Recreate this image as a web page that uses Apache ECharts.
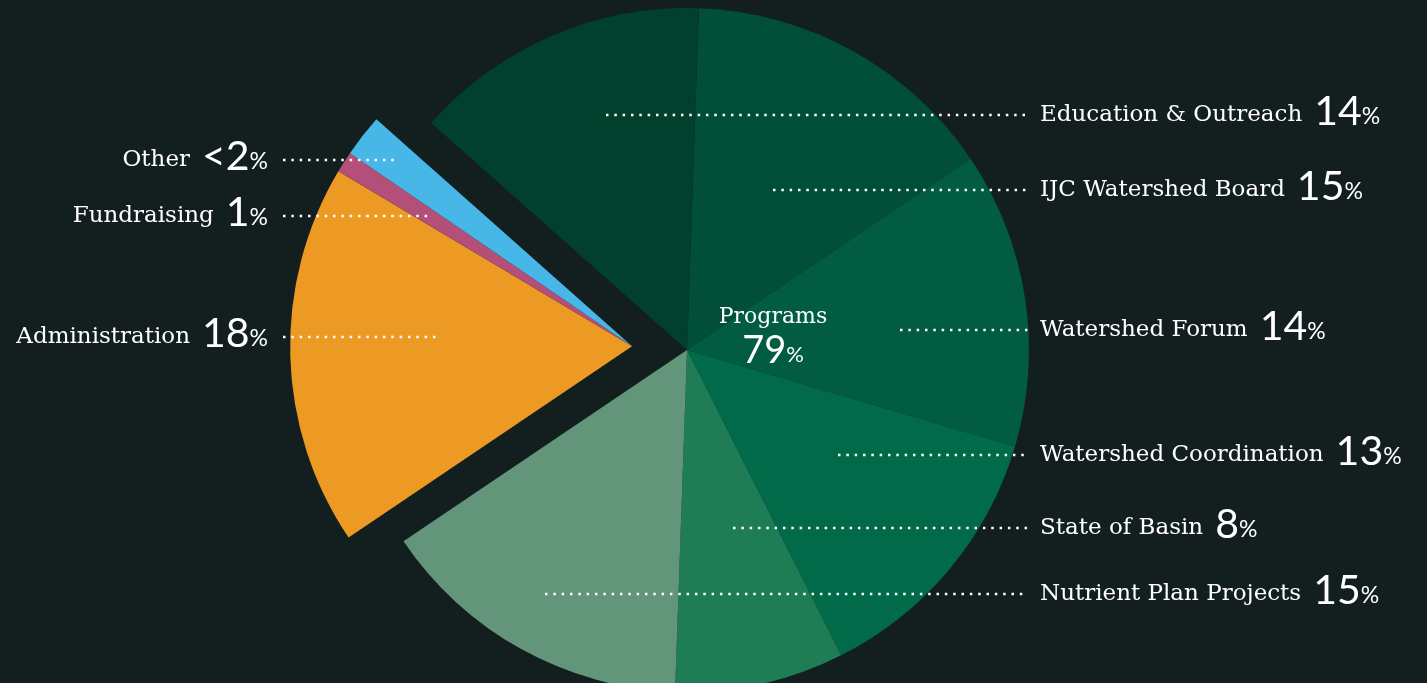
<!DOCTYPE html>
<html>
<head>
<meta charset="utf-8">
<title>Budget</title>
<script src="https://cdn.jsdelivr.net/npm/echarts@6/dist/echarts.min.js"></script>
<style>
    html, body { margin: 0; padding: 0; background: #131e1f; }
    #pie { width: 1427px; height: 683px; }
</style>
</head>
<body>
<div id="pie"></div>
<script>
// slices in clockwise order, starting just right of 12 o'clock
var categories = ['IJC Watershed Board', 'Watershed Forum', 'Watershed Coordination', 'State of Basin',
    'Nutrient Plan Projects', 'Administration', 'Fundraising', 'Other', 'Education & Outreach'];
var shares = [15, 14, 13, 8, 15, 18, 1, 2, 14];
var shareLabels = ['15', '14', '13', '8', '15', '18', '1', '<2', '14'];
var isProgram = [true, true, true, true, true, false, false, false, true];

var sliceColors = ['#014f38', '#015c41', '#016a48', '#1f7d55', '#63957a', '#ec9a23', '#b34f78', '#47b7e7', '#00402c'];

// label placement (pixels)
var labelY = [190, 330, 455, 528, 594, 337, 216, 160, 115];
var lineFromX = [773, 900, 838, 733, 545, 283, 283, 283, 606];
var lineToX = [1028, 1028, 1028, 1028, 1028, 440, 428, 394, 1028];
var rightTextX = 1040, leftTextX = 268;

var center = [687, 350], radius = 342, startAngle = 88, explode = 55;

/**
 * 初始化饼图
 * @param id 容器id
 */
function initPie(id) {
    var chart = echarts.init(document.getElementById(id));
    var total = shares.reduce(function (a, b) { return a + b; }, 0);

    // direction of the exploded (non-program) group
    var acc = 0, gFrom = null, gTo = 0;
    shares.forEach(function (v, i) {
        if (!isProgram[i]) {
            if (gFrom === null) gFrom = acc;
            gTo = acc + v;
        }
        acc += v;
    });
    var mid = (startAngle - (gFrom + gTo) / 2 / total * 360) * Math.PI / 180;
    var groupCenter = [center[0] + explode * Math.cos(mid), center[1] - explode * Math.sin(mid)];

    var programSum = 0;
    shares.forEach(function (v, i) { if (isProgram[i]) programSum += v; });

    var nameFont = 'DejaVu Serif', numFont = 'Lato';
    var rich = {
        n: { fontFamily: nameFont, fontSize: 23, color: '#fff', verticalAlign: 'bottom', lineHeight: 42, padding: [0, 12, 5, 0] },
        v: { fontFamily: numFont, fontSize: 41, color: '#fff', verticalAlign: 'bottom', lineHeight: 42 },
        p: { fontFamily: numFont, fontSize: 23, color: '#fff', verticalAlign: 'bottom', lineHeight: 42, padding: [0, 0, 4, 0] }
    };

    // group: true = programs, false = others, null = label layer
    function buildData(group) {
        return categories.map(function (name, i) {
            var on = group === null || isProgram[i] === group;
            return {
                name: name,
                value: shares[i],
                itemStyle: { color: (group !== null && on) ? sliceColors[i] : 'transparent' }
            };
        });
    }

    function layout(params) {
        var i = params.dataIndex;
        var y = labelY[i];
        var right = lineToX[i] > center[0];
        return {
            x: right ? rightTextX : leftTextX,
            y: y - 4,
            align: right ? 'left' : 'right',
            verticalAlign: 'middle',
            labelLinePoints: [[lineFromX[i], y], [lineToX[i], y], [lineToX[i], y]]
        };
    }

    function sectors(group, c) {
        return {
            type: 'pie',
            z: 2,
            center: c,
            radius: radius,
            startAngle: startAngle,
            clockwise: true,
            silent: true,
            animation: false,
            data: buildData(group),
            label: { show: false },
            labelLine: { show: false }
        };
    }

    var labels = {
        type: 'pie',
        z: 5,
        center: center,
        radius: radius,
        startAngle: startAngle,
        clockwise: true,
        silent: true,
        animation: false,
        data: buildData(null),
        label: {
            show: true,
            position: 'outside',
            overflow: 'none',
            formatter: function (p) {
                return '{n|' + p.name + '}{v|' + shareLabels[p.dataIndex] + '}{p|%}';
            },
            rich: rich
        },
        labelLine: {
            show: true,
            lineStyle: { color: '#fff', width: 2.5, type: [2.5, 5.83] }
        },
        labelLayout: layout
    };

    var option = {
        backgroundColor: '#131e1f',
        series: [sectors(true, center), sectors(false, groupCenter), labels],
        graphic: [{
            type: 'text',
            z: 10,
            x: 773,
            y: 302,
            style: {
                text: '{n|Programs}\n{v|' + programSum + '}{p|%}',
                align: 'center',
                fill: '#fff',
                rich: {
                    n: { fontFamily: nameFont, fontSize: 22, fill: '#fff', lineHeight: 30, align: 'center' },
                    v: { fontFamily: numFont, fontSize: 38, fill: '#fff', verticalAlign: 'bottom', lineHeight: 38 },
                    p: { fontFamily: numFont, fontSize: 22, fill: '#fff', verticalAlign: 'bottom', lineHeight: 38, padding: [0, 0, 4, 0] }
                }
            }
        }]
    };
    chart.setOption(option);
}

initPie('pie');
</script>
</body>
</html>
